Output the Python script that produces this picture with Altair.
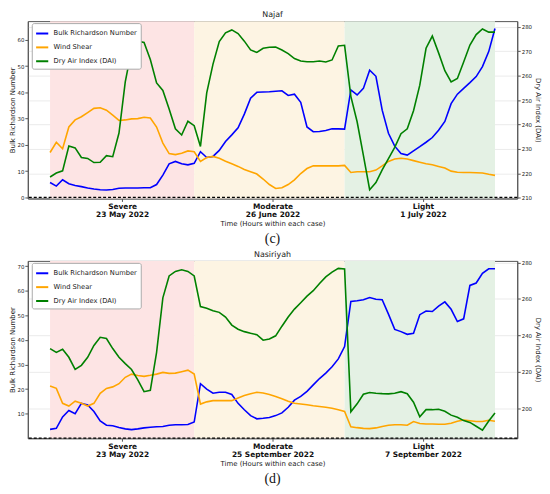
import altair as alt
import pandas as pd

# ---------------- data ----------------
SERIES = ["Bulk Richardson Number", "Wind Shear", "Dry Air Index (DAI)"]
COLORS = ["blue", "orange", "green"]
CASE_TICKS = [11.5, 35.5, 59.5]

najaf_cases = ["Severe", "Moderate", "Light"]
najaf_dates = ["23 May 2022", "26 June 2022", "1 July 2022"]
nasiriyah_dates = ["23 May 2022", "25 September 2022", "7 September 2022"]

brn_c = [5.7, 4.3, 6.7, 5.2, 4.5, 4.1, 3.6, 3.2, 2.9, 2.8, 3.0, 3.5, 3.6, 3.6, 3.6, 3.7, 3.7, 4.9, 8.5, 12.8, 13.7, 12.8, 12.4, 13.0,
         17.4, 15.2, 15.6, 17.9, 21.3, 23.8, 26.5, 31.7, 37.8, 40.0, 40.1, 40.2, 40.4, 40.6, 38.8, 39.3, 36.2, 26.8, 25.0, 25.1, 25.5, 26.1, 26.1, 26.0,
         40.9, 39.0, 41.5, 48.4, 46.1, 33.2, 24.4, 19.5, 16.7, 16.1, 17.7, 19.3, 21.0, 22.8, 25.6, 28.9, 35.7, 39.3, 41.5, 43.7, 46.0, 49.8, 55.5, 64.3]
ws_c = [17.1, 21.0, 18.5, 26.8, 29.5, 30.7, 32.3, 33.9, 34.1, 33.2, 31.3, 29.3, 29.5, 29.9, 30.0, 30.5, 30.2, 26.8, 20.7, 16.7, 16.3, 16.8, 17.7, 17.4,
        13.7, 15.2, 15.6, 14.9, 13.8, 12.8, 11.8, 10.6, 9.8, 8.9, 7.0, 4.9, 3.4, 3.7, 4.9, 6.7, 9.1, 11.0, 12.0, 12.0, 12.0, 12.0, 12.0, 12.2,
        9.5, 9.8, 9.8, 9.8, 10.4, 12.0, 13.7, 14.6, 14.9, 14.6, 14.0, 13.4, 12.8, 12.4, 11.8, 11.2, 10.0, 9.6, 9.5, 9.5, 9.4, 9.3, 8.8, 8.4]
dai_c = [218.5, 220.1, 221.0, 231.2, 230.4, 226.5, 226.1, 224.4, 224.5, 227.2, 226.8, 236.5, 257.4, 270.5, 274.1, 273.6, 266.6, 257.0, 253.9, 246.3, 238.2, 235.7, 241.3, 239.5,
         231.0, 252.9, 264.7, 273.9, 277.5, 278.7, 277.2, 274.1, 270.5, 269.5, 271.2, 271.6, 271.7, 270.5, 269.0, 267.0, 266.0, 265.7, 265.7, 266.0, 265.6, 266.4, 272.1, 272.4,
         251.5, 241.1, 227.3, 213.3, 216.2, 221.4, 226.0, 230.6, 236.2, 238.2, 245.6, 256.1, 271.2, 276.2, 269.3, 262.0, 257.4, 258.8, 265.6, 272.5, 276.8, 279.1, 277.8, 277.8]

brn_d = [3.6, 4.0, 8.7, 11.3, 10.0, 14.2, 13.5, 10.9, 7.0, 5.3, 5.1, 4.4, 3.8, 3.5, 3.8, 4.2, 4.5, 4.7, 4.8, 5.3, 5.5, 5.5, 5.6, 6.6,
         22.2, 20.0, 18.3, 18.7, 18.7, 17.8, 14.2, 11.6, 9.2, 7.9, 8.1, 8.4, 9.2, 10.3, 12.6, 15.5, 17.0, 19.1, 21.7, 24.3, 26.5, 29.1, 32.3, 37.3,
         55.7, 56.0, 56.4, 57.3, 56.6, 56.4, 50.5, 44.3, 43.4, 42.3, 42.7, 50.3, 51.8, 51.6, 53.8, 55.5, 52.5, 47.5, 48.6, 62.2, 63.2, 67.1, 69.0, 69.0]
ws_d = [21.3, 20.3, 14.2, 13.1, 15.1, 14.2, 13.1, 14.2, 18.3, 20.3, 20.9, 22.2, 24.8, 26.1, 25.5, 25.2, 25.6, 26.1, 26.8, 26.4, 26.5, 27.1, 27.7, 26.1,
        13.9, 14.8, 15.3, 15.3, 15.3, 15.3, 16.4, 17.4, 18.1, 18.7, 18.4, 17.8, 17.0, 16.1, 15.1, 14.2, 13.9, 13.6, 13.2, 12.9, 12.6, 12.2, 11.6, 10.9,
        4.7, 4.3, 4.0, 3.9, 4.2, 4.8, 5.3, 5.5, 5.5, 5.3, 6.8, 6.0, 5.8, 5.8, 5.7, 5.7, 6.1, 6.9, 7.4, 7.1, 6.8, 6.8, 7.3, 6.9]
dai_d = [232.7, 230.6, 232.3, 227.9, 221.2, 223.5, 227.9, 234.4, 238.9, 238.2, 232.7, 227.9, 224.4, 221.2, 215.5, 209.0, 209.7, 230.6, 260.6, 272.6, 275.1, 276.0, 275.1, 272.6,
         255.8, 254.9, 253.5, 252.6, 250.0, 245.6, 243.3, 242.0, 241.1, 240.3, 237.3, 238.0, 239.7, 245.0, 250.0, 254.4, 257.9, 261.5, 264.5, 268.5, 272.1, 274.7, 276.8, 276.5,
         197.9, 202.3, 207.6, 208.5, 208.1, 207.9, 207.8, 208.1, 209.0, 207.9, 203.2, 195.2, 199.1, 199.1, 199.3, 198.2, 196.1, 194.9, 193.1, 192.1, 190.0, 187.8, 192.9, 197.3]

span_starts = [0, 23, 47]
span_ends = [23, 47, 71]
span_fills = ["#fde4e4", "#fdf4e3", "#e4f1e4"]

W, H = 494, 179
FONT = "DejaVu Sans"


def panel(title, dates, brn, ws, dai, left_dom, left_ticks, right_dom, right_ticks, tag):
    n = len(brn)
    rows = []
    for i in range(n):
        rows.append({"hour": i, "series": SERIES[0], "value": brn[i]})
        rows.append({"hour": i, "series": SERIES[1], "value": ws[i]})
        rows.append({"hour": i, "series": SERIES[2], "value": dai[i]})
    df = pd.DataFrame(rows)
    spans = pd.DataFrame({"x0": span_starts, "x1": span_ends, "fill": span_fills})

    labels = {t: [c, d] for t, c, d in zip(CASE_TICKS, najaf_cases, dates)}
    expr = " : ".join(
        f"datum.value == {t} ? ['{v[0]}', '{v[1]}']" for t, v in labels.items()
    ) + " : ''"

    xscale = alt.Scale(domain=[-3.55, 74.55], nice=False, zero=False)
    xaxis = alt.Axis(values=CASE_TICKS, labelExpr=expr, labelFontWeight="bold",
                     labelFontSize=7.5, labelLineHeight=8, labelFont=FONT, labelColor="#111",
                     title="Time (Hours within each case)", titleFontSize=7,
                     titleFontWeight="normal", titleFont=FONT, titleColor="#222",
                     titlePadding=2, tickSize=3, labelPadding=1, grid=False,
                     domainColor="#555", tickColor="#555")

    color = alt.Color("series:N",
                      scale=alt.Scale(domain=SERIES, range=COLORS),
                      legend=alt.Legend(title=None, orient="none", legendX=4, legendY=2,
                                        symbolType="stroke", symbolSize=150,
                                        symbolStrokeWidth=2, labelFontSize=6.8,
                                        labelFont=FONT, labelColor="#222",
                                        fillColor="white", strokeColor="#aaa",
                                        padding=3, rowPadding=2, cornerRadius=2,
                                        labelLimit=200))

    rects = alt.Chart(spans).mark_rect().encode(
        x=alt.X("x0:Q", scale=xscale, axis=xaxis),
        x2="x1:Q",
        fill=alt.Fill("fill:N", scale=None),
    )

    yleft = alt.Y("value:Q", scale=alt.Scale(domain=left_dom, nice=False, zero=False),
                  axis=alt.Axis(orient="left", values=left_ticks, title="Bulk Richardson Number",
                                titleFontSize=7, titleFontWeight="normal", titleFont=FONT,
                                titleColor="#222", labelFontSize=5.5, labelFont=FONT,
                                labelColor="#222", tickSize=3, labelPadding=1,
                                titlePadding=1, grid=False, domainColor="#555",
                                tickColor="#555"))
    left_lines = alt.Chart(df).transform_filter(
        alt.FieldOneOfPredicate(field="series", oneOf=SERIES[:2])
    ).mark_line(strokeWidth=1.6).encode(
        x=alt.X("hour:Q", scale=xscale), y=yleft, color=color,
    )
    zero = alt.Chart(pd.DataFrame({"value": [0]})).mark_rule(
        color="black", strokeDash=[3, 2], strokeWidth=1.3
    ).encode(y=yleft)
    left = alt.layer(left_lines, zero)

    right = alt.Chart(df).transform_filter(
        alt.FieldEqualPredicate(field="series", equal=SERIES[2])
    ).mark_line(strokeWidth=1.6).encode(
        x=alt.X("hour:Q", scale=xscale),
        y=alt.Y("value:Q", scale=alt.Scale(domain=right_dom, nice=False, zero=False),
                axis=alt.Axis(orient="right", values=right_ticks, title="Dry Air Index (DAI)",
                              titleFontSize=7, titleFontWeight="normal", titleFont=FONT,
                              titleColor="#222", labelFontSize=5.5, labelFont=FONT,
                              labelColor="#222", tickSize=3, labelPadding=1,
                              titlePadding=3, grid=True, gridColor="#e6e6e6",
                              gridOpacity=0.8, domainColor="#555", tickColor="#555")),
        color=color,
    )

    tag_text = alt.Chart(pd.DataFrame({"t": [tag]})).mark_text(
        font="Liberation Serif", fontSize=14, color="#111", baseline="middle"
    ).encode(x=alt.value(W / 2), y=alt.value(H + 41), text="t:N")

    return alt.layer(rects, left, right, tag_text).resolve_scale(y="independent").properties(
        width=W, height=H,
        title=alt.TitleParams(title, fontSize=8, font=FONT, fontWeight="normal",
                              color="#222", offset=2),
    )


pc = panel("Najaf", najaf_dates, brn_c, ws_c, dai_c, [-0.4, 67.1],
           [0, 10, 20, 30, 40, 50, 60], [209.7, 282.3],
           [210, 220, 230, 240, 250, 260, 270, 280], "(c)")
pd_ = panel("Nasiriyah", nasiriyah_dates, brn_d, ws_d, dai_d, [0, 72.2],
            [10, 20, 30, 40, 50, 60, 70], [183.4, 280.9],
            [200, 220, 240, 260, 280], "(d)")

chart = alt.vconcat(pc, pd_, spacing=3).resolve_scale(color="independent").resolve_legend(
    color="independent"
).properties(padding=0).configure_view(stroke="#555", strokeWidth=1)

chart.save("out.html", embed_options={"renderer": "svg", "actions": False})
